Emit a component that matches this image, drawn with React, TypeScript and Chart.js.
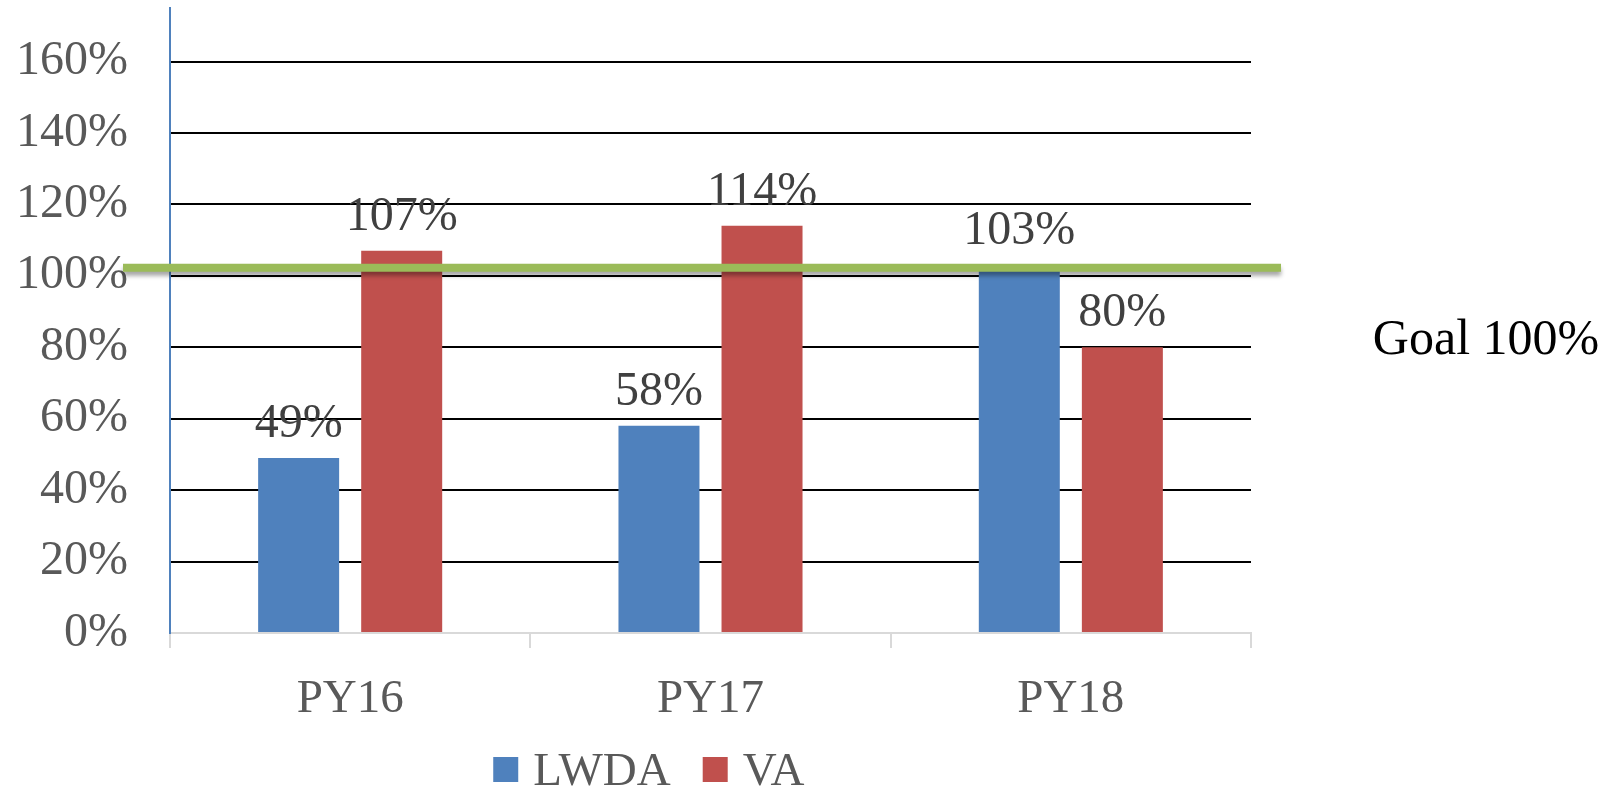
import React, { useEffect, useRef } from "react";
import { Chart, registerables } from "chart.js";

Chart.register(...registerables);

const categories = ["PY16", "PY17", "PY18"];
const seriesNames = ["LWDA", "VA"];
const lwdaValues = [49, 58, 103];
const vaValues = [107, 114, 80];
const seriesColors = ["#4F81BD", "#C0504D"];
const yTickValues = [0, 20, 40, 60, 80, 100, 120, 140, 160];
const yMax = 175;
const goalValue = 102.3;
const goalLabel = "Goal 100%";

const FONT = "'Liberation Serif', 'Times New Roman', serif";

export default function App() {
  const ref = useRef<HTMLCanvasElement>(null);

  useEffect(() => {
    if (!ref.current) return;

    const overlay = {
      id: "overlay",
      afterDatasetsDraw(chart: any) {
        const { ctx, chartArea, scales } = chart;
        const y = scales.y;
        // goal line
        const gy = y.getPixelForValue(goalValue);
        ctx.save();
        ctx.shadowColor = "rgba(0,0,0,0.35)";
        ctx.shadowOffsetY = 4;
        ctx.shadowBlur = 4;
        ctx.strokeStyle = "#9BBB59";
        ctx.lineWidth = 8;
        ctx.beginPath();
        ctx.moveTo(chartArea.left - 47, gy);
        ctx.lineTo(chartArea.right + 30, gy);
        ctx.stroke();
        ctx.restore();

        // goal label
        ctx.save();
        ctx.font = `50px ${FONT}`;
        ctx.fillStyle = "#000000";
        ctx.textAlign = "center";
        ctx.textBaseline = "alphabetic";
        ctx.fillText(goalLabel, chartArea.right + 235, gy + 86);
        ctx.restore();

        // data labels
        ctx.save();
        ctx.font = `48px ${FONT}`;
        ctx.fillStyle = "#404040";
        ctx.textAlign = "center";
        ctx.textBaseline = "alphabetic";
        chart.data.datasets.forEach((ds: any, di: number) => {
          const meta = chart.getDatasetMeta(di);
          meta.data.forEach((bar: any, i: number) => {
            ctx.fillText(`${ds.data[i]}%`, bar.x, bar.y - 21);
          });
        });
        ctx.restore();
      },
      afterDraw(chart: any) {
        // legend
        const { ctx, chartArea } = chart;
        const box = 25;
        const gapText = 15;
        const gapItem = 32;
        ctx.save();
        ctx.font = `47px ${FONT}`;
        const items = chart.data.datasets.map((ds: any) => ({
          text: ds.label,
          color: ds.backgroundColor,
          w: ctx.measureText(ds.label).width,
        }));
        const total =
          items.reduce((s: number, it: any) => s + box + gapText + it.w, 0) +
          gapItem * (items.length - 1);
        const cx = chartArea.left + (chartArea.right - chartArea.left) * 0.443;
        let x = cx - total / 2;
        const baseline = chart.height - 3;
        items.forEach((it: any) => {
          ctx.fillStyle = it.color;
          ctx.fillRect(x, baseline - 28, box, box);
          ctx.fillStyle = "#595959";
          ctx.textAlign = "left";
          ctx.textBaseline = "alphabetic";
          ctx.fillText(it.text, x + box + gapText, baseline);
          x += box + gapText + it.w + gapItem;
        });
        ctx.restore();
      },
    };

    const chart = new Chart(ref.current, {
      type: "bar",
      data: {
        labels: categories,
        datasets: [
          {
            label: seriesNames[0],
            data: lwdaValues,
            backgroundColor: seriesColors[0],
            categoryPercentage: 0.572,
            barPercentage: 0.786,
          },
          {
            label: seriesNames[1],
            data: vaValues,
            backgroundColor: seriesColors[1],
            categoryPercentage: 0.572,
            barPercentage: 0.786,
          },
        ],
      },
      options: {
        responsive: false,
        animation: false,
        layout: { padding: { left: 0, right: 368, top: 8, bottom: 0 } },
        plugins: {
          tooltip: { enabled: false },
          legend: { display: false },
        },
        scales: {
          x: {
            afterFit: (axis: any) => {
              axis.height = 155;
              axis.paddingLeft = 0;
              axis.paddingRight = 0;
            },
            grid: {
              drawOnChartArea: false,
              drawTicks: true,
              tickLength: 15,
              color: "#D9D9D9",
              lineWidth: 2,
            },
            border: { color: "#D9D9D9", width: 2 },
            ticks: {
              font: { family: FONT, size: 47 },
              color: "#595959",
              padding: 23,
              maxRotation: 0,
            },
          },
          y: {
            min: 0,
            max: yMax,
            afterBuildTicks: (axis: any) => {
              axis.ticks = yTickValues.map((v) => ({ value: v }));
            },
            afterFit: (axis: any) => {
              axis.width = 170;
              axis.paddingTop = 0;
              axis.paddingBottom = 0;
            },
            grid: {
              drawTicks: false,
              color: (c: any) => (c.tick && c.tick.value === 0 ? "rgba(0,0,0,0)" : "#000000"),
              lineWidth: 2,
            },
            border: { color: "#4F81BD", width: 2 },
            ticks: {
              font: { family: FONT, size: 48 },
              color: "#595959",
              padding: 42,
              callback: (v: any) => `${v}%`,
            },
          },
        },
      },
      plugins: [overlay],
    });

    return () => chart.destroy();
  }, []);

  return (
    <div
      style={{
        position: "absolute",
        left: 0,
        top: 0,
        width: 1619,
        height: 788,
        background: "#ffffff",
      }}
    >
      <canvas ref={ref} width={1619} height={788} style={{ display: "block" }} />
    </div>
  );
}
